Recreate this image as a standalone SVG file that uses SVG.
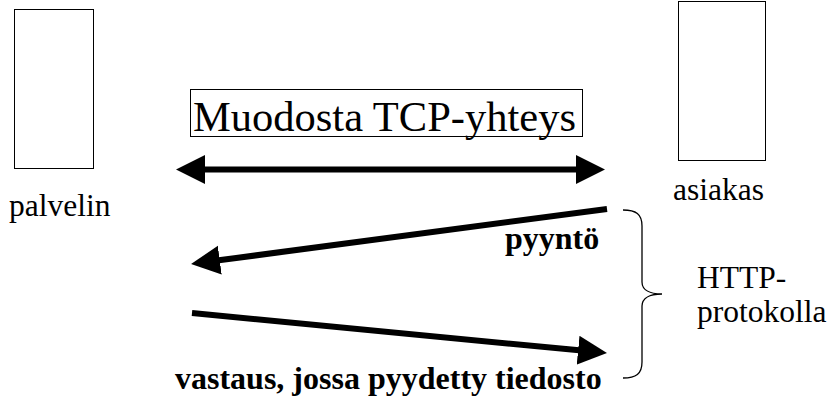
<svg xmlns="http://www.w3.org/2000/svg" width="831" height="398" viewBox="0 0 831 398">
<style>
.box{fill:#fff;stroke:#000;stroke-width:1}
.lbl{font-family:'Liberation Serif','Times New Roman','DejaVu Serif',serif;font-size:31.5px;fill:#000}
.bold{font-family:'Liberation Serif','Times New Roman','DejaVu Serif',serif;font-size:32px;font-weight:bold;fill:#000}
.title{font-family:'Liberation Serif','Times New Roman','DejaVu Serif',serif;font-size:42.5px;fill:#000}
.arrow{stroke:#000;stroke-width:6;fill:none}
.brace{stroke:#000;stroke-width:1.3;fill:none}
</style>
<defs>
<marker id="head" markerUnits="userSpaceOnUse" markerWidth="30" markerHeight="30" viewBox="0 0 30 30" refX="1" refY="14.5" orient="auto-start-reverse">
<path d="M0,0 L29,14.5 L0,29 z" fill="#000"/>
</marker>
</defs>
<rect width="831" height="398" fill="#fff"/>
<g id="palvelin">
<rect class="box" x="14.5" y="9.5" width="79" height="159"/>
<text class="lbl" x="9" y="216" font-family="Liberation Serif, serif">palvelin</text>
</g>
<g id="asiakas">
<rect class="box" x="678.5" y="1.5" width="87" height="159"/>
<text class="lbl" x="673" y="200" font-family="Liberation Serif, serif">asiakas</text>
</g>
<g id="tcp">
<rect class="box" x="190.5" y="89.5" width="392" height="47"/>
<text class="title" x="193" y="131" font-family="Liberation Serif, serif">Muodosta TCP-yhteys</text>
</g>
<g id="connectors">
<line class="arrow" x1="204" y1="169.5" x2="577" y2="169.5" marker-start="url(#head)" marker-end="url(#head)"/>
<line class="arrow" x1="607" y1="209" x2="218.8" y2="260.3" marker-end="url(#head)"/>
<line class="arrow" x1="192" y1="313" x2="579.1" y2="350.3" marker-end="url(#head)"/>
</g>
<g id="labels">
<text class="bold" x="505" y="249" font-family="Liberation Serif, serif">pyyntö</text>
<text class="bold" x="175" y="389" font-family="Liberation Serif, serif">vastaus, jossa pyydetty tiedosto</text>
</g>
<g id="http">
<path class="brace" d="M623,210 C636,210 642,214 642,226 L642,282 C642,290 650,294 662,294 C650,294 642,298 642,306 L642,362 C642,374 636,378 623,378"/>
<text class="lbl" x="697" y="288" font-family="Liberation Serif, serif">HTTP-</text>
<text class="lbl" x="697" y="322" font-family="Liberation Serif, serif">protokolla</text>
</g>
</svg>
